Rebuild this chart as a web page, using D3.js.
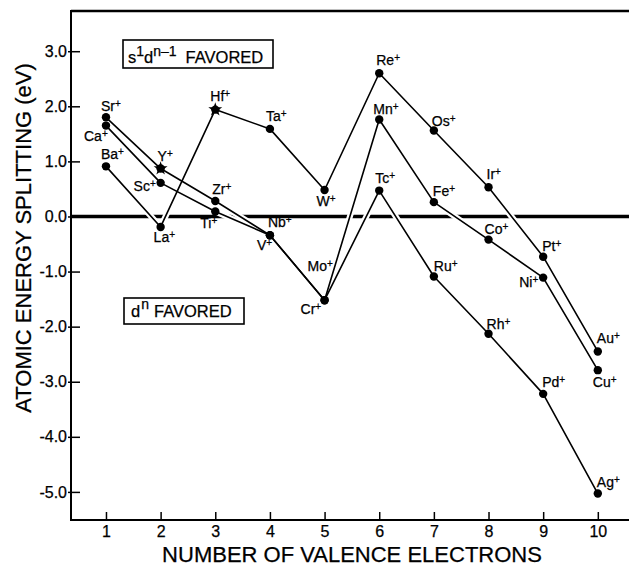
<!DOCTYPE html>
<html><head><meta charset="utf-8">
<script src="https://cdn.jsdelivr.net/npm/d3@7"></script>
<style>
html,body{margin:0;padding:0;background:#fff;}
svg{display:block;font-family:"Liberation Sans",Arial,Helvetica,sans-serif;}
svg text{fill:#000;stroke:#000;stroke-width:0.25px;}
</style></head><body>
<svg id="chart" width="629" height="566"></svg>
<script>
// Valence electron count on the x axis
const electrons = [1, 2, 3, 4, 5, 6, 7, 8, 9, 10];

// First transition row (3d) ions and their s1d(n-1) - d(n) splitting, eV
const ions3d = ["Ca", "Sc", "Ti", "V", "Cr", "Mn", "Fe", "Co", "Ni", "Cu"];
const split3d = [1.65, 0.61, 0.09, -0.34, -1.52, 1.76, 0.26, -0.42, -1.11, -2.79];

// Second row (4d)
const ions4d = ["Sr", "Y", "Zr", "Nb", "Mo", "Tc", "Ru", "Rh", "Pd", "Ag"];
const split4d = [1.80, 0.87, 0.28, -0.34, -1.52, 0.47, -1.09, -2.13, -3.22, -5.03];

// Third row (5d)
const ions5d = ["Ba", "La", "Hf", "Ta", "W", "Re", "Os", "Ir", "Pt", "Au"];
const split5d = [0.91, -0.19, 1.94, 1.59, 0.48, 2.60, 1.56, 0.53, -0.73, -2.45];

const yTicks = [-5, -4, -3, -2, -1, 0, 1, 2, 3];
const xTicks = [1, 2, 3, 4, 5, 6, 7, 8, 9, 10];
const starIons = ["Y", "Hf"];

// label placement: offset of text start / baseline from its point
const labelOffset = {
  Sr: [-5, -6], Ca: [-22, 15], Ba: [-5, -7],
  Hf: [-5, -9], Y: [-3, -8], Sc: [-27, 8], Zr: [-3, -7], Ti: [-15, 16], La: [-7, 15],
  Nb: [-2, -8], V: [-13, 15], Mo: [-17, -29], Cr: [-24, 14], Ta: [-4, -8], W: [-8, 16],
  Re: [-3, -8], Mn: [-6, -6], Tc: [-4, -8], Os: [-2, -5], Fe: [-1, -6], Ir: [-2, -8],
  Ru: [0, -6], Co: [-4, -6], Pt: [-1, -6], Ni: [-24, 9], Rh: [-2, -5], Pd: [-1, -7],
  Au: [-1, -8], Cu: [-5, 17], Ag: [-1, -7]
};

const svg = d3.select("#chart");

const x = d3.scaleLinear().domain([0.36, 10.9]).range([71, 647]);
const y = d3.scaleLinear().domain([-5.51, 3.73]).range([520, 11]);
const [x0, x1] = x.range();
const [yb, yt] = y.range();

// frame
const frame = svg.append("g").attr("stroke", "#000").attr("fill", "none");
frame.append("line").attr("x1", x0).attr("x2", x1).attr("y1", yt).attr("y2", yt).attr("stroke-width", 2.5);
frame.append("line").attr("x1", x0).attr("x2", x1).attr("y1", yb).attr("y2", yb).attr("stroke-width", 2);
frame.append("line").attr("x1", x0).attr("x2", x0).attr("y1", yt - 1).attr("y2", yb + 1).attr("stroke-width", 2);

// zero line
svg.append("line")
  .attr("x1", x0).attr("x2", x1)
  .attr("y1", y(0)).attr("y2", y(0))
  .attr("stroke", "#000").attr("stroke-width", 3.5);

// axes
const fmt = v => v.toFixed(1);
const yAxis = svg.append("g")
  .attr("transform", `translate(${x0},0)`)
  .call(d3.axisLeft(y).tickValues(yTicks).tickFormat(fmt).tickSizeInner(-9).tickSizeOuter(0).tickPadding(4));
const xAxis = svg.append("g")
  .attr("transform", `translate(0,${yb})`)
  .call(d3.axisBottom(x).tickValues(xTicks).tickSizeInner(-8).tickSizeOuter(0).tickPadding(6));
[yAxis, xAxis].forEach(g => {
  g.select(".domain").remove();
  g.selectAll(".tick line").attr("stroke", "#000").attr("stroke-width", 1.5);
  g.selectAll(".tick text").attr("fill", "#000").style("font-size", "16px")
    .style("font-family", '"Liberation Sans", Arial, sans-serif');
});
yAxis.selectAll(".tick line").attr("x1", -3);

// axis titles
svg.append("text")
  .attr("transform", `translate(31,238) rotate(-90)`)
  .attr("text-anchor", "middle")
  .style("font-size", "22px")
  .text("ATOMIC ENERGY SPLITTING (eV)");
svg.append("text")
  .attr("x", 352).attr("y", 562)
  .attr("text-anchor", "middle")
  .style("font-size", "22px")
  .text("NUMBER OF VALENCE ELECTRONS");

// series
const series = [
  { ions: ions3d, vals: split3d },
  { ions: ions4d, vals: split4d },
  { ions: ions5d, vals: split5d }
];
const line = d3.line().x((d, i) => x(electrons[i])).y(d => y(d));

const halo = svg.append("g");
const lines = svg.append("g");
series.forEach(s => {
  halo.append("path").attr("d", line(s.vals))
    .attr("fill", "none").attr("stroke", "#fff").attr("stroke-width", 6);
  lines.append("path").attr("d", line(s.vals))
    .attr("fill", "none").attr("stroke", "#000").attr("stroke-width", 1.6)
    .attr("stroke-linejoin", "round");
});

// markers
const marks = svg.append("g");
series.forEach(s => {
  s.vals.forEach((v, i) => {
    const cx = x(electrons[i]), cy = y(v);
    marks.append("circle").attr("cx", cx).attr("cy", cy).attr("r", 4.2).attr("fill", "#000");
    if (starIons.includes(s.ions[i])) {
      marks.append("path")
        .attr("transform", `translate(${cx},${cy})`)
        .attr("d", d3.symbol(d3.symbolStar, 60)())
        .attr("fill", "#000");
    }
  });
});

// ion labels
const labels = svg.append("g").style("font-size", "14px");
series.forEach(s => {
  s.vals.forEach((v, i) => {
    const name = s.ions[i];
    const off = labelOffset[name] || [0, -7];
    const t = labels.append("text")
      .attr("x", x(electrons[i]) + off[0])
      .attr("y", y(v) + off[1]);
    t.append("tspan").text(name);
    t.append("tspan").attr("dy", -4).style("font-size", "10px").text("+");
  });
});

// configuration boxes
const box = svg.append("g");
box.append("rect").attr("x", 123).attr("y", 40).attr("width", 150).attr("height", 28)
  .attr("fill", "#fff").attr("stroke", "#000").attr("stroke-width", 1.6);
const t1 = box.append("text").attr("x", 128).attr("y", 63).style("font-size", "16.5px");
t1.append("tspan").text("s");
t1.append("tspan").attr("dy", -7).style("font-size", "14px").text("1");
t1.append("tspan").attr("dy", 7).text("d");
t1.append("tspan").attr("dy", -7).style("font-size", "14px").text("n–1");
t1.append("tspan").attr("dy", 7).attr("dx", 9).text("FAVORED");

box.append("rect").attr("x", 124).attr("y", 298).attr("width", 120).attr("height", 26)
  .attr("fill", "#fff").attr("stroke", "#000").attr("stroke-width", 1.6);
const t2 = box.append("text").attr("x", 131).attr("y", 317).style("font-size", "16.5px");
t2.append("tspan").text("d");
t2.append("tspan").attr("dy", -8).attr("dx", 1).style("font-size", "14px").text("n");
t2.append("tspan").attr("dy", 8).attr("dx", 5).text("FAVORED");
</script>
</body></html>
